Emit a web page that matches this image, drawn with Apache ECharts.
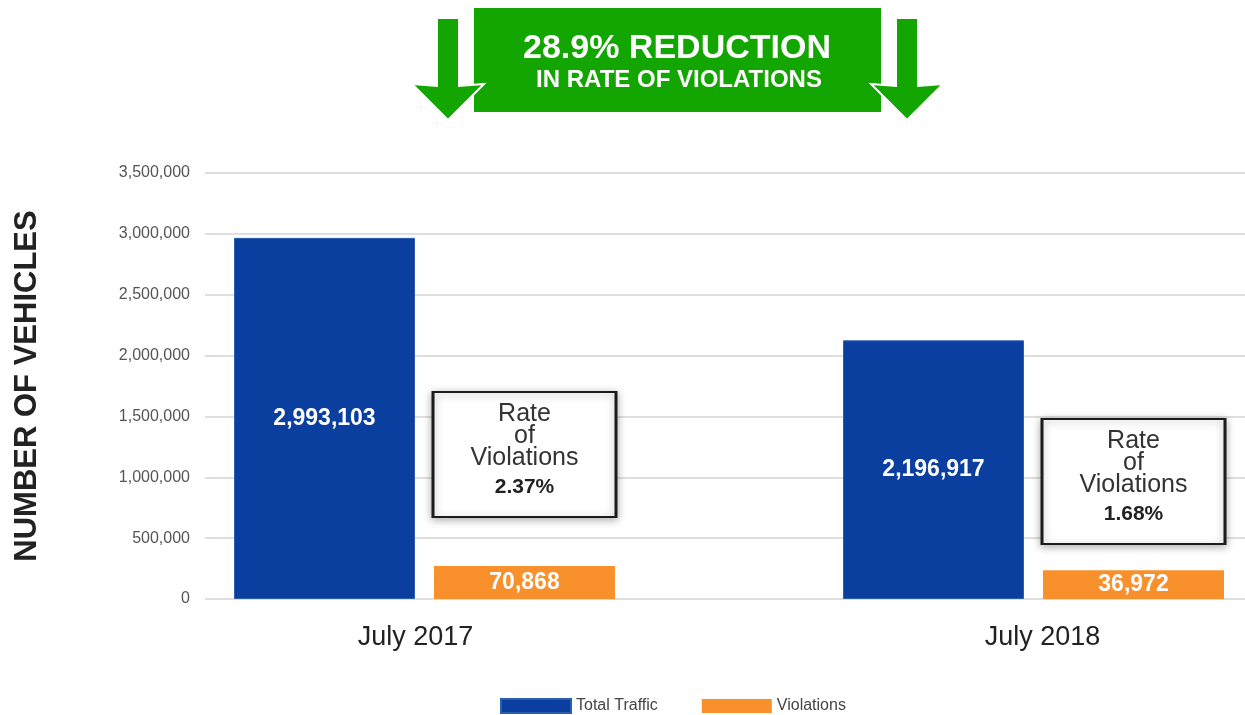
<!DOCTYPE html>
<html>
<head>
<meta charset="utf-8">
<title>Rate of Violations</title>
<script src="https://cdn.jsdelivr.net/npm/echarts@6/dist/echarts.min.js"></script>
<style>
  html, body { margin: 0; padding: 0; background: #fff; }
  #chart { width: 1245px; height: 715px; }
</style>
</head>
<body>
<div id="chart"></div>
<script>
// data
const categories = ['July 2017', 'July 2018']
// bar heights as drawn (the infographic does not draw them to scale)
const trafficHeights = [2967000, 2125000]
const violationHeights = [271000, 237000]
// numbers printed on the bars
const trafficLabels = [2993103, 2196917]
const violationLabels = [70868, 36972]
const violationRates = ['2.37%', '1.68%']

const FONT = 'Arial, "Liberation Sans", Helvetica, sans-serif'
const fmt = v => v.toLocaleString('en-US')

const chart = echarts.init(document.getElementById('chart'))

// arrow polygon: shaft x0..x1, wings w0..w1, tip at tx
function arrow (x0, x1, w0, w1, tx) {
  return [[x0, 18], [x1, 18], [x1, 86], [w1, 84], [tx, 120], [w0, 84], [x0, 86]]
}

const option = {
  backgroundColor: '#fff',
  textStyle: { fontFamily: FONT },
  grid: [
    // grid for the value axis and its split lines
    { left: 205, right: 0, top: 173, bottom: 116 },
    // grid for the bars (runs past the right edge so the groups land where they are in the picture)
    { left: 120, width: 1218, top: 173, bottom: 116, outerBoundsMode: 'none' }
  ],
  xAxis: [
    { type: 'category', gridIndex: 0, data: categories, show: false },
    {
      type: 'category',
      gridIndex: 1,
      data: categories,
      axisLine: { show: false },
      axisTick: { show: false },
      axisLabel: {
        color: '#222',
        fontSize: 27,
        margin: 25,
        fontFamily: FONT,
        // the labels sit a little off the bar groups in the picture
        formatter: (v, i) => '{' + (i === 0 ? 'l' : 'r') + '|' + v + '}',
        rich: {
          l: { fontSize: 27, color: '#222', padding: [0, 18, 0, 0] },
          r: { fontSize: 27, color: '#222', padding: [0, 0, 0, 18] }
        }
      }
    }
  ],
  yAxis: [
    {
      type: 'value',
      gridIndex: 0,
      min: 0,
      max: 3500000,
      interval: 500000,
      name: 'NUMBER OF VEHICLES',
      nameLocation: 'middle',
      nameGap: 162,
      nameTextStyle: { fontSize: 31, fontWeight: 'bold', color: '#222', fontFamily: FONT },
      axisLine: { show: false },
      axisTick: { show: false },
      axisLabel: { color: '#555', fontSize: 16, margin: 15, formatter: v => fmt(v) },
      splitLine: { lineStyle: { color: '#d4d4d4', width: 1.5 } }
    },
    { type: 'value', gridIndex: 1, min: 0, max: 3500000, show: false }
  ],
  legend: {
    left: 495,
    top: 693,
    icon: 'rect',
    itemWidth: 70,
    itemHeight: 14,
    itemGap: 44,
    selectedMode: false,
    textStyle: { color: '#444', fontSize: 16, fontFamily: FONT },
    data: ['Total Traffic', 'Violations']
  },
  series: [
    {
      name: 'Total Traffic',
      type: 'bar',
      xAxisIndex: 1,
      yAxisIndex: 1,
      barWidth: 181,
      barGap: '10.5%',
      data: trafficHeights,
      itemStyle: { color: '#0a3f9f', borderColor: '#2c5db3', borderWidth: 1 },
      label: {
        show: true,
        position: 'inside',
        color: '#fff',
        fontWeight: 'bold',
        fontSize: 23,
        fontFamily: FONT,
        formatter: p => fmt(trafficLabels[p.dataIndex])
      },
      emphasis: { disabled: true }
    },
    {
      name: 'Violations',
      type: 'bar',
      xAxisIndex: 1,
      yAxisIndex: 1,
      barWidth: 181,
      data: violationHeights,
      itemStyle: { color: '#f8902c' },
      label: {
        show: true,
        position: 'inside',
        color: '#fff',
        fontWeight: 'bold',
        fontSize: 23,
        fontFamily: FONT,
        formatter: p => fmt(violationLabels[p.dataIndex])
      },
      emphasis: { disabled: true },
      // the "Rate of Violations" boxes, placed over the orange bars
      markPoint: {
        silent: true,
        symbol: 'rect',
        symbolSize: [183, 125],
        itemStyle: {
          color: '#fff',
          borderColor: '#1c1c1c',
          borderWidth: 2.5,
          shadowBlur: 8,
          shadowOffsetY: 2,
          shadowColor: 'rgba(0,0,0,0.3)'
        },
        label: {
          show: true,
          position: 'inside',
          formatter: p => '{t|Rate}\n{t|of}\n{t|Violations}\n{b|' + p.value + '}',
          rich: {
            t: { fontSize: 25, lineHeight: 22, color: '#333', fontFamily: FONT },
            b: { fontSize: 21, lineHeight: 36, color: '#222', fontWeight: 'bold', fontFamily: FONT }
          }
        },
        data: [
          { coord: [categories[0], 1187000], value: violationRates[0] },
          { coord: [categories[1], 965000], value: violationRates[1] }
        ]
      }
    }
  ],
  graphic: [
    {
      type: 'rect',
      shape: { x: 474, y: 8, width: 407, height: 104 },
      style: { fill: '#13a500' },
      z: 10
    },
    {
      type: 'polygon',
      shape: { points: arrow(437, 459, 412, 484, 448) },
      style: { fill: '#13a500', stroke: '#fff', lineWidth: 2 },
      z: 11
    },
    {
      type: 'polygon',
      shape: { points: arrow(896, 918, 871, 943, 907) },
      style: { fill: '#13a500', stroke: '#fff', lineWidth: 2 },
      z: 11
    },
    {
      type: 'text',
      x: 677,
      y: 49,
      style: {
        text: '28.9% REDUCTION',
        fill: '#fff',
        font: 'bold 34px ' + FONT,
        align: 'center',
        verticalAlign: 'middle'
      },
      z: 12
    },
    {
      type: 'text',
      x: 679,
      y: 80,
      style: {
        text: 'IN RATE OF VIOLATIONS',
        fill: '#fff',
        font: 'bold 24px ' + FONT,
        align: 'center',
        verticalAlign: 'middle'
      },
      z: 12
    }
  ]
}

chart.setOption(option)
</script>
</body>
</html>
